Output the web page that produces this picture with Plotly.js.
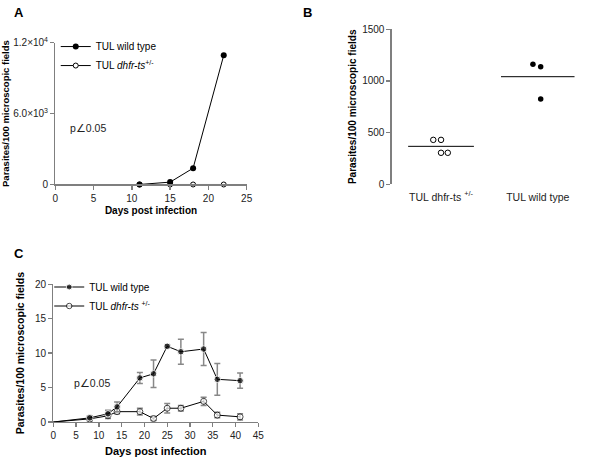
<!DOCTYPE html>
<html>
<head>
<meta charset="utf-8">
<script src="https://cdn.plot.ly/plotly-3.0.1.min.js"></script>
<style>html,body{margin:0;padding:0;background:#fff;}#chart{width:593px;height:458px;}</style>
</head>
<body>
<div id="chart"></div>
<script>
// ---- Panel A data ----
const daysA_wt = [11, 15, 18, 22];
const valsA_wt = [0, 200, 1380, 10930];
const daysA_ko = [11, 15, 18, 22];
const valsA_ko = [0, 0, 0, 0];
const ticksA_vals = [0, 6000, 12000];
const ticksA_text = ['0', '6.0×10<sup>3</sup>', '1.2×10<sup>4</sup>'];

// ---- Panel B data ----
const categoriesB = ['TUL dhfr-ts <sup>+/-</sup>', 'TUL wild type'];
const valsB_ko = [430, 430, 305, 305];
const valsB_wt = [1161, 1138, 825];
const jitterB_ko = [-0.08, 0.0, 0.0, 0.07];
const jitterB_wt = [-0.05, 0.03, 0.03];

// ---- Panel C data ----
const daysC = [0, 8, 12, 14, 19, 22, 25, 28, 33, 36, 41];
const valsC_wt = [0, 0.6, 1.2, 2.2, 6.4, 7.0, 11.0, 10.2, 10.6, 6.2, 6.0];
const errC_wt = [null, 0.3, 0.5, 0.7, 0.8, 2.0, 0.2, 1.8, 2.4, 2.3, 1.1];
const valsC_ko = [0, 0.45, 0.9, 1.5, 1.5, 0.5, 2.0, 2.0, 3.0, 1.0, 0.75];
const errC_ko = [null, 0.3, 0.4, 0.3, 0.5, 0.3, 0.7, 0.4, 0.6, 0.4, 0.45];

const FONT = 'Liberation Sans, Arial, sans-serif';
const AX = '#7f7f7f';
const koName = 'TUL <i>dhfr-ts</i><sup>+/-</sup>';
const koNameC = 'TUL <i>dhfr-ts</i> <sup>+/-</sup>';

function sizes(arr, s){ return arr.map((_, i) => (i === 0 ? 0 : s)); }
function mean(a){ return a.reduce((s, v) => s + v, 0) / a.length; }

const traces = [
  // Panel A
  {x: daysA_ko, y: valsA_ko, xaxis: 'x', yaxis: 'y', name: koName, mode: 'lines+markers',
   line: {color: '#000', width: 1}, marker: {symbol: 'circle', size: 5, color: '#fff', line: {color: '#000', width: 1}},
   legend: 'legend', cliponaxis: false},
  {x: daysA_wt, y: valsA_wt, xaxis: 'x', yaxis: 'y', name: 'TUL wild type', mode: 'lines+markers',
   line: {color: '#000', width: 1}, marker: {symbol: 'circle', size: 6, color: '#000'},
   legend: 'legend', cliponaxis: false},
  // Panel B
  {x: valsB_ko.map((v, i) => 1 + jitterB_ko[i]), y: valsB_ko, xaxis: 'x2', yaxis: 'y2', mode: 'markers',
   marker: {symbol: 'circle-open', size: 5.5, color: '#000', line: {width: 1}}, showlegend: false, cliponaxis: false},
  {x: valsB_wt.map((v, i) => 2 + jitterB_wt[i]), y: valsB_wt, xaxis: 'x2', yaxis: 'y2', mode: 'markers',
   marker: {symbol: 'circle', size: 5.5, color: '#000'}, showlegend: false, cliponaxis: false},
  {x: [1 - 0.34, 1 + 0.34], y: [mean(valsB_ko), mean(valsB_ko)], xaxis: 'x2', yaxis: 'y2', mode: 'lines',
   line: {color: '#000', width: 1}, showlegend: false, hoverinfo: 'skip'},
  {x: [2 - 0.38, 2 + 0.38], y: [mean(valsB_wt), mean(valsB_wt)], xaxis: 'x2', yaxis: 'y2', mode: 'lines',
   line: {color: '#000', width: 1}, showlegend: false, hoverinfo: 'skip'},
  // Panel C
  {x: daysC, y: valsC_ko, xaxis: 'x3', yaxis: 'y3', name: koNameC, mode: 'lines+markers',
   line: {color: '#000', width: 1}, marker: {symbol: 'circle', size: sizes(daysC, 6), color: '#fff', line: {color: '#000', width: 1}},
   error_y: {type: 'data', array: errC_ko, visible: true, color: '#888', thickness: 1.5, width: 3},
   legend: 'legend2', cliponaxis: false},
  {x: daysC, y: valsC_wt, xaxis: 'x3', yaxis: 'y3', name: 'TUL wild type', mode: 'lines+markers',
   line: {color: '#000', width: 1}, marker: {symbol: 'circle', size: sizes(daysC, 6.5), color: '#000'},
   error_y: {type: 'data', array: errC_wt, visible: true, color: '#888', thickness: 1.5, width: 3},
   legend: 'legend2', cliponaxis: false}
];

const axisBase = {
  showgrid: false, zeroline: false, showline: true, linecolor: AX, linewidth: 1.3,
  ticks: 'outside', ticklen: 4, tickcolor: AX, tickwidth: 1.3,
  tickfont: {family: FONT, size: 10, color: '#222'}
};
const titleFont = {family: FONT, size: 10, color: '#000', weight: 'bold'};

const layout = {
  width: 593, height: 458,
  margin: {l: 0, r: 0, t: 0, b: 0},
  paper_bgcolor: '#fff', plot_bgcolor: '#fff',
  font: {family: FONT, color: '#000'},
  xaxis: Object.assign({}, axisBase, {domain: [0.0933, 0.416], range: [0, 25], tickvals: [0,5,10,15,20,25],
    anchor: 'y', title: {text: 'Days post infection', font: titleFont, standoff: 4}}),
  yaxis: Object.assign({}, axisBase, {domain: [0.5972, 0.9068], range: [0, 12000], tickvals: ticksA_vals, ticktext: ticksA_text,
    anchor: 'x', title: {text: 'Parasites/100 microscopic fields', font: Object.assign({}, titleFont, {size: 9.5}), standoff: 4}}),
  xaxis2: {domain: [0.6605, 0.9966], range: [0.49, 2.55], anchor: 'y2', showgrid: false, zeroline: false, showline: false,
    ticks: '', tickvals: [1, 2], ticktext: categoriesB, ticklabelstandoff: 5, tickfont: {family: FONT, size: 10.5, color: '#222'}},
  yaxis2: Object.assign({}, axisBase, {domain: [0.5976, 0.936], range: [0, 1500], tickvals: [0, 500, 1000, 1500],
    anchor: 'x2', title: {text: 'Parasites/100 microscopic fields', font: titleFont, standoff: 3}}),
  xaxis3: Object.assign({}, axisBase, {domain: [0.0899, 0.4356], range: [0, 45], tickvals: [0,5,10,15,20,25,30,35,40,45],
    anchor: 'y3', title: {text: 'Days post infection', font: Object.assign({}, titleFont, {size: 11}), standoff: 7}}),
  yaxis3: Object.assign({}, axisBase, {domain: [0.0786, 0.3793], range: [0, 20], tickvals: [0,5,10,15,20],
    anchor: 'x3', title: {text: 'Parasites/100 microscopic fields', font: Object.assign({}, titleFont, {size: 10.5}), standoff: 8}}),
  legend: {x: 0.094, y: 0.93, xanchor: 'left', yanchor: 'top', traceorder: 'reversed', bgcolor: 'rgba(0,0,0,0)',
    font: {family: FONT, size: 10, color: '#000'}, itemwidth: 30},
  legend2: {x: 0.083, y: 0.405, xanchor: 'left', yanchor: 'top', traceorder: 'reversed', bgcolor: 'rgba(0,0,0,0)',
    font: {family: FONT, size: 10, color: '#000'}, itemwidth: 30},
  annotations: [
    {text: '<b>A</b>', xref: 'paper', yref: 'paper', x: 12/593, y: 1 - 3/458, xanchor: 'left', yanchor: 'top', showarrow: false, font: {family: FONT, size: 13, color: '#000'}},
    {text: '<b>B</b>', xref: 'paper', yref: 'paper', x: 301/593, y: 1 - 3/458, xanchor: 'left', yanchor: 'top', showarrow: false, font: {family: FONT, size: 13, color: '#000'}},
    {text: '<b>C</b>', xref: 'paper', yref: 'paper', x: 12/593, y: 1 - 244/458, xanchor: 'left', yanchor: 'top', showarrow: false, font: {family: FONT, size: 13, color: '#000'}},
    {text: 'p∠0.05', xref: 'x', yref: 'y', x: 1.6, y: 4750, xanchor: 'left', yanchor: 'middle', showarrow: false, font: {family: FONT, size: 10.5, color: '#222'}},
    {text: 'p∠0.05', xref: 'x3', yref: 'y3', x: 4.2, y: 5.7, xanchor: 'left', yanchor: 'middle', showarrow: false, font: {family: FONT, size: 10.5, color: '#222'}}
  ]
};

Plotly.newPlot('chart', traces, layout, {staticPlot: true, displayModeBar: false});
</script>
</body>
</html>
